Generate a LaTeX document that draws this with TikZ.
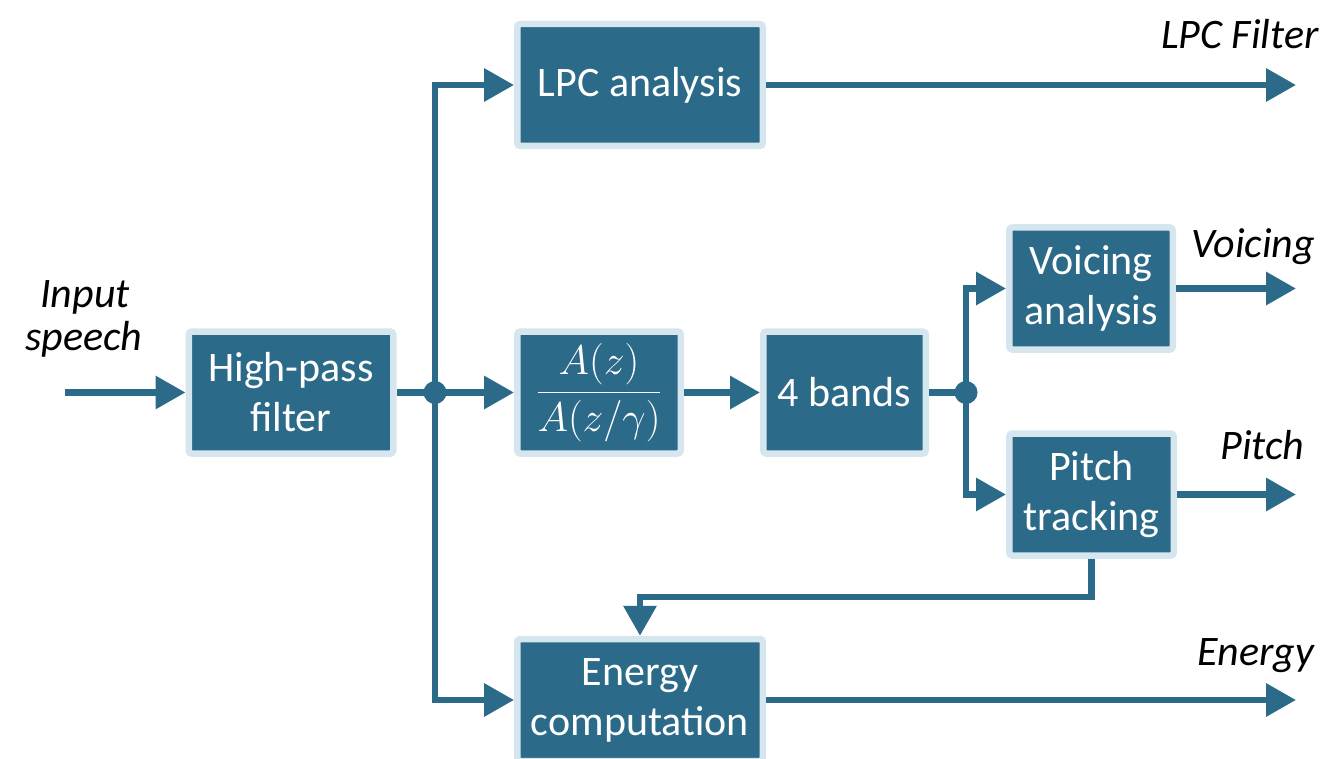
\documentclass[tikz,border=0pt]{standalone}
\usepackage{fontspec}
\setmainfont{Carlito}
\usetikzlibrary{arrows.meta}
\definecolor{boxc}{HTML}{2B6A88}
\definecolor{bordc}{HTML}{D6E6EF}
\begin{document}
\begin{tikzpicture}[x=0.5pt,y=-0.5pt,
  blk/.style={fill=boxc, draw=bordc, line width=3.25pt, rounded corners=1.5pt,
    text=white, font=\fontsize{21}{25}\selectfont, align=center, inner sep=0pt,
    minimum height=61pt},
  wide/.style={blk, minimum width=122.75pt},
  mid/.style={blk, minimum width=81.75pt},
  lab/.style={text=black, font=\fontsize{21}{25}\selectfont\itshape, inner sep=0pt},
  conn/.style={draw=boxc, line width=3.2pt},
  arr/.style={conn, -{Triangle[length=15pt,width=16pt]}},
  dot/.style={fill=boxc}]
\useasboundingbox (0,0) rectangle (1321,759);
\clip (0,0) rectangle (1321,759);

% blocks
\node[blk, minimum width=102.25pt] (hp) at (291,392.5) {High-pass\\filter};
\node[wide] (lpc) at (640,85) {LPC analysis};
\node[mid, font=\fontsize{22.5}{25}\selectfont] (az) at (599,392.5) {$\displaystyle\frac{A(z)}{A(z/\gamma)}$};
\node[blk, minimum width=81.25pt] (bands) at (844.5,392.5) {4 bands};
\node[mid] (voi) at (1091,288.5) {Voicing\\analysis};
\node[blk, minimum width=82.25pt] (pit) at (1091.5,494.5) {Pitch\\tracking};
\node[wide] (en) at (640,700) {Energy\\computation};

% coordinates
\coordinate (in) at (65,392.5);
\coordinate (j1) at (435,392.5);
\coordinate (j2) at (966,392.5);
\coordinate (ox) at (1296,0);
\coordinate (fb) at (640,597);

% labels
\node[lab, anchor=base] (l1) at (85,307) {Input};
\node[lab, anchor=base] (l2) at (84,350) {speech};
\node[lab, anchor=base east] (lf) at (1319,49) {LPC Filter};
\node[lab, anchor=base west] (lv) at (1191,257) {Voicing};
\node[lab, anchor=base west] (lp) at (1220,459) {Pitch};
\node[lab, anchor=base west] (le) at (1197,665) {Energy};

% connectors
\draw[arr] (in) -- (hp.west);
\draw[conn] (hp.east) -- (j1);
\draw[arr] (j1) -- (az.west);
\draw[arr] (j1) |- (lpc.west);
\draw[arr] (j1) |- (en.west);
\draw[arr] (az.east) -- (bands.west);
\draw[conn] (bands.east) -- (j2);
\draw[arr] (j2) |- (voi.west);
\draw[arr] (j2) |- (pit.west);
\draw[arr] (lpc.east) -- (lpc.east -| ox);
\draw[arr] (voi.east) -- (voi.east -| ox);
\draw[arr] (pit.east) -- (pit.east -| ox);
\draw[arr] (en.east) -- (en.east -| ox);
\draw[arr] (pit.south) |- (fb) -- (en.north);

\fill[dot] (j1) circle (5.75pt);
\fill[dot] (j2) circle (5.75pt);
\end{tikzpicture}
\end{document}
